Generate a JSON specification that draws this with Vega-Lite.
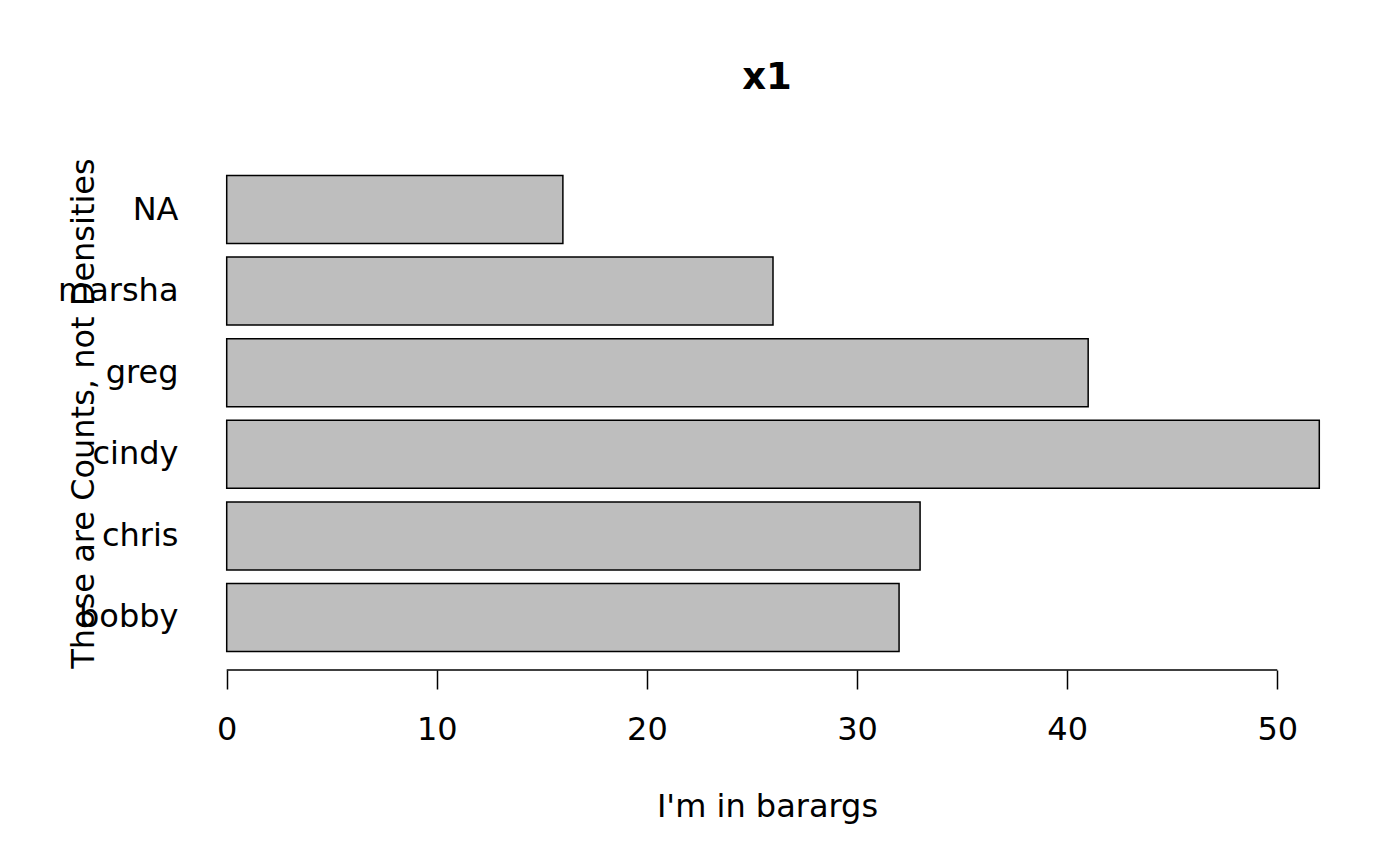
{
  "$schema": "https://vega.github.io/schema/vega-lite/v6.json",
  "autosize": {"type": "none"},
  "width": 1180,
  "height": 513,
  "padding": {"left": 183, "top": 157, "right": 37, "bottom": 196},
  "background": "white",
  "config": {
    "view": {"stroke": null},
    "font": "DejaVu Sans",
    "axis": {"labelFont": "DejaVu Sans", "titleFont": "DejaVu Sans", "labelColor": "black", "titleColor": "black", "tickColor": "black", "grid": false}
  },
  "title": {
    "text": "x1",
    "font": "DejaVu Sans",
    "fontSize": 37,
    "fontWeight": "bold",
    "color": "black",
    "anchor": "middle",
    "baseline": "alphabetic",
    "offset": 31,
    "dx": -6
  },
  "layer": [
    {
      "data": {"values": [
        {"name": "bobby", "count": 32},
        {"name": "chris", "count": 33},
        {"name": "cindy", "count": 52},
        {"name": "greg", "count": 41},
        {"name": "marsha", "count": 26},
        {"name": "NA", "count": 16}
      ]},
      "mark": {"type": "bar", "fill": "#BEBEBE", "stroke": "black", "strokeWidth": 1.5, "cornerRadius": 0},
      "encoding": {
        "y": {
          "field": "name",
          "type": "nominal",
          "sort": ["NA", "marsha", "greg", "cindy", "chris", "bobby"],
          "scale": {"paddingInner": 0.1667, "paddingOuter": 0.227},
          "axis": {
            "title": "Those are Counts, not Densities",
            "domain": false,
            "ticks": false,
            "tickSize": 0,
            "labelPadding": 5,
            "labelFontSize": 32,
            "labelAlign": "right",
            "labelBaseline": "middle",
            "titleFontSize": 32,
            "titleFontWeight": "normal",
            "titleAngle": -90,
            "titleX": -90,
            "titleY": 256,
            "titleAlign": "center",
            "titleBaseline": "alphabetic"
          }
        },
        "x": {
          "field": "count",
          "type": "quantitative",
          "scale": {"domain": [-2.08, 54.08], "nice": false, "zero": false},
          "axis": {
            "title": "I'm in barargs",
            "values": [0, 10, 20, 30, 40, 50],
            "domain": false,
            "ticks": true,
            "tickSize": 19,
            "tickWidth": 1.5,
            "labelFontSize": 32,
            "labelBaseline": "alphabetic",
            "labelPadding": 50,
            "labelAlign": "center",
            "labelFlush": false,
            "labelOverlap": false,
            "titleFontSize": 32,
            "titleFontWeight": "normal",
            "titleX": 584,
            "titleY": 146,
            "titleAlign": "center",
            "titleBaseline": "alphabetic"
          }
        }
      }
    },
    {
      "data": {"values": [{"from": 0, "to": 50}]},
      "mark": {"type": "rule", "stroke": "black", "strokeWidth": 1.5},
      "encoding": {
        "x": {"field": "from", "type": "quantitative"},
        "x2": {"field": "to"},
        "y": {"value": {"expr": "height"}}
      }
    }
  ]
}
